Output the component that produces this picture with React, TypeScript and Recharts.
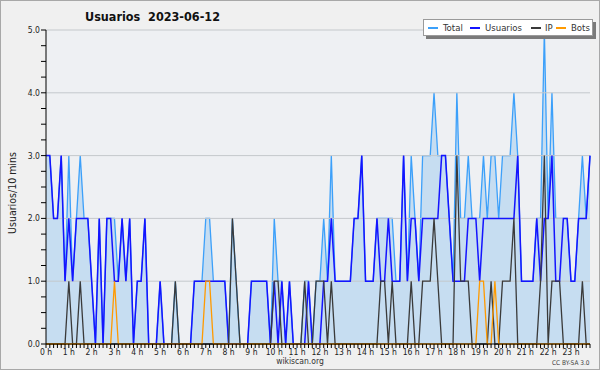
import {
  ComposedChart,
  Area,
  Line,
  XAxis,
  YAxis,
  CartesianGrid,
  ReferenceLine,
} from "recharts";

// one value per 10 minutes, 144 slots for the day
const total = [
  3, 3, 2, 2, 3, 1, 3, 1, 2, 3, 2, 2, 1, 0, 2, 0, 2, 2, 2, 1, 2, 1, 2, 0, 1, 1, 2, 0, 0, 0,
  1, 0, 0, 0, 1, 0, 0, 0, 0, 1, 1, 1, 2, 2, 1, 1, 1, 1, 0, 2, 1, 0, 0, 0, 1, 1, 1, 1, 1, 0,
  2, 1, 1, 0, 1, 0, 0, 0, 1, 1, 0, 1, 1, 2, 1, 3, 1, 1, 1, 1, 1, 2, 2, 3, 1, 1, 1, 2, 2, 2,
  2, 2, 1, 1, 3, 1, 3, 2, 1, 3, 3, 3, 4, 3, 3, 3, 2, 1, 4, 2, 2, 3, 2, 2, 2, 3, 2, 3, 3, 2,
  3, 3, 3, 4, 3, 1, 1, 1, 1, 2, 2, 5, 2, 4, 2, 2, 2, 2, 1, 1, 2, 3, 2, 3,
];
const usuarios = [
  3, 3, 2, 2, 3, 1, 2, 1, 2, 2, 2, 2, 1, 0, 2, 0, 2, 2, 1, 1, 2, 1, 2, 0, 1, 1, 2, 0, 0, 0,
  1, 0, 0, 0, 0, 0, 0, 0, 0, 1, 1, 1, 1, 1, 1, 1, 1, 1, 0, 0, 0, 0, 0, 0, 1, 1, 1, 1, 1, 0,
  1, 0, 1, 0, 1, 0, 0, 0, 0, 1, 0, 0, 0, 1, 1, 2, 1, 1, 1, 1, 1, 2, 2, 3, 1, 1, 1, 2, 1, 1,
  2, 1, 1, 1, 3, 1, 2, 2, 1, 2, 2, 2, 2, 2, 3, 3, 2, 1, 1, 1, 1, 2, 2, 2, 1, 2, 2, 2, 2, 2,
  2, 2, 2, 2, 3, 1, 1, 1, 1, 2, 1, 2, 2, 3, 1, 1, 2, 2, 1, 1, 2, 2, 2, 3,
];
const ip = [
  0, 0, 0, 0, 0, 0, 1, 0, 0, 1, 0, 0, 0, 0, 0, 0, 0, 0, 0, 0, 0, 0, 0, 0, 0, 0, 0, 0, 0, 0,
  0, 0, 0, 0, 1, 0, 0, 0, 0, 0, 0, 0, 0, 0, 0, 0, 0, 0, 0, 2, 1, 0, 0, 0, 0, 0, 0, 0, 0, 0,
  1, 1, 0, 0, 0, 0, 0, 0, 1, 0, 0, 1, 1, 1, 0, 1, 0, 0, 0, 0, 0, 0, 0, 0, 0, 0, 0, 0, 1, 1,
  0, 1, 0, 0, 0, 0, 1, 0, 0, 1, 1, 1, 2, 1, 0, 0, 0, 0, 3, 1, 1, 1, 0, 0, 0, 0, 0, 1, 0, 0,
  1, 1, 1, 2, 0, 0, 0, 0, 0, 0, 1, 3, 0, 1, 1, 1, 0, 0, 0, 0, 0, 1, 0, 0,
];
const bots = [
  0, 0, 0, 0, 0, 0, 0, 0, 0, 0, 0, 0, 0, 0, 0, 0, 0, 0, 1, 0, 0, 0, 0, 0, 0, 0, 0, 0, 0, 0,
  0, 0, 0, 0, 0, 0, 0, 0, 0, 0, 0, 0, 1, 1, 0, 0, 0, 0, 0, 0, 0, 0, 0, 0, 0, 0, 0, 0, 0, 0,
  0, 0, 0, 0, 0, 0, 0, 0, 0, 0, 0, 0, 0, 0, 0, 0, 0, 0, 0, 0, 0, 0, 0, 0, 0, 0, 0, 0, 0, 0,
  0, 0, 0, 0, 0, 0, 0, 0, 0, 0, 0, 0, 0, 0, 0, 0, 0, 0, 0, 0, 0, 0, 0, 0, 1, 1, 0, 0, 1, 0,
  0, 0, 0, 0, 0, 0, 0, 0, 0, 0, 0, 0, 0, 0, 0, 0, 0, 0, 0, 0, 0, 0, 0, 0,
];

const hourLabels = [
  "0 h", "1 h", "2 h", "3 h", "4 h", "5 h", "6 h", "7 h", "8 h", "9 h", "10 h", "11 h",
  "12 h", "13 h", "14 h", "15 h", "16 h", "17 h", "18 h", "19 h", "20 h", "21 h", "22 h", "23 h",
];
const yTicks = [
  0, 0.25, 0.5, 0.75, 1, 1.25, 1.5, 1.75, 2, 2.25, 2.5, 2.75, 3, 3.25, 3.5, 3.75, 4, 4.25,
  4.5, 4.75, 5,
];
const gridLevels = [1, 2, 3, 4, 5];

const slots = total.map((_, i) => i);
const data = slots.map((i) => ({
  slot: i,
  total: total[i],
  usuarios: usuarios[i],
  ip: ip[i],
  bots: bots[i],
}));

const FONT = '"DejaVu Sans Condensed", "DejaVu Sans", sans-serif';

const legendItems = [
  { label: "Total", color: "#3ca0fa", lineX: 428, textX: 443 },
  { label: "Usuarios", color: "#1414ff", lineX: 470, textX: 485 },
  { label: "IP", color: "#3a3a3a", lineX: 531, textX: 545 },
  { label: "Bots", color: "#ff9a00", lineX: 556, textX: 571 },
];

export default function App() {
  return (
    <div
      style={{
        position: "absolute",
        left: 0,
        top: 0,
        width: 600,
        height: 370,
        background: "#f0f0f0",
        fontFamily: FONT,
        overflow: "hidden",
      }}
    >
      <ComposedChart
        width={600}
        height={370}
        data={data}
        margin={{ top: 30, right: 10, bottom: 0, left: 0 }}
      >
        <CartesianGrid horizontal={false} vertical={false} fill="#eef0f3" />
        <XAxis
          dataKey="slot"
          type="number"
          domain={[0, 143]}
          ticks={slots}
          interval={0}
          height={26}
          tickSize={4}
          tickMargin={1}
          tickFormatter={(v: number) => (v % 6 === 0 ? hourLabels[v / 6] : "")}
          axisLine={{ stroke: "#000" }}
          tickLine={{ stroke: "#000" }}
          tick={{ fill: "#222", fontSize: 8.5, fontFamily: FONT }}
        />
        <YAxis
          type="number"
          domain={[0, 5]}
          ticks={yTicks}
          interval={0}
          width={46}
          tickSize={5}
          tickMargin={1}
          tickFormatter={(v: number) => (Number.isInteger(v) ? v.toFixed(1) : "")}
          axisLine={{ stroke: "#000" }}
          tickLine={{ stroke: "#000" }}
          tick={{ fill: "#222", fontSize: 8.5, fontFamily: FONT }}
        />
        <Area
          type="linear"
          dataKey="total"
          stroke="#3ca0fa"
          strokeWidth={1.3}
          fill="#c6ddf1"
          fillOpacity={1}
          dot={false}
          activeDot={false}
          isAnimationActive={false}
        />
        {gridLevels.map((g) => (
          <ReferenceLine key={g} y={g} stroke="#c4c8cc" strokeWidth={1} />
        ))}
        <Line
          type="linear"
          dataKey="usuarios"
          stroke="#1414ff"
          strokeWidth={1.5}
          dot={false}
          activeDot={false}
          isAnimationActive={false}
        />
        <Line
          type="linear"
          dataKey="ip"
          stroke="#3a3a3a"
          strokeWidth={1.3}
          dot={false}
          activeDot={false}
          isAnimationActive={false}
        />
        <Line
          type="linear"
          dataKey="bots"
          stroke="#ff9a00"
          strokeWidth={1.3}
          dot={false}
          activeDot={false}
          isAnimationActive={false}
        />
      </ComposedChart>

      <div
        style={{
          position: "absolute",
          left: 85,
          top: 9,
          fontSize: 12.5,
          fontWeight: "bold",
          color: "#111",
          whiteSpace: "pre",
        }}
      >
        {"Usuarios  2023-06-12"}
      </div>

      <div
        style={{
          position: "absolute",
          left: 4,
          top: 193,
          transform: "translate(0, -50%) rotate(-90deg)",
          transformOrigin: "center",
          width: 16,
          display: "flex",
          justifyContent: "center",
        }}
      >
        <span style={{ fontSize: 10.5, color: "#222", whiteSpace: "nowrap" }}>
          Usuarios/10 mins
        </span>
      </div>

      <div
        style={{
          position: "absolute",
          left: 423,
          top: 19,
          width: 170,
          height: 17,
          background: "#fff",
          border: "1px solid #9a9a9a",
          boxShadow: "3px 3px 0 #7a7a7a",
          boxSizing: "border-box",
        }}
      />
      {legendItems.map((it) => (
        <div key={it.label}>
          <div
            style={{
              position: "absolute",
              left: it.lineX,
              top: 27,
              width: 10,
              height: 1.5,
              background: it.color,
            }}
          />
          <div
            style={{
              position: "absolute",
              left: it.textX,
              top: 20,
              fontSize: 9.5,
              lineHeight: "15px",
              color: "#333",
              whiteSpace: "nowrap",
            }}
          >
            {it.label}
          </div>
        </div>
      ))}

      <div
        style={{
          position: "absolute",
          left: 0,
          width: 600,
          top: 356,
          textAlign: "center",
          fontSize: 8.5,
          color: "#333",
        }}
      >
        wikiscan.org
      </div>
      <div
        style={{
          position: "absolute",
          left: 552,
          top: 359,
          fontSize: 6.5,
          color: "#444",
          whiteSpace: "nowrap",
        }}
      >
        CC BY-SA 3.0
      </div>
      <div
        style={{
          position: "absolute",
          left: 0,
          top: 0,
          width: 600,
          height: 370,
          border: "1px solid #a8a8a8",
          boxSizing: "border-box",
          pointerEvents: "none",
        }}
      />
    </div>
  );
}
